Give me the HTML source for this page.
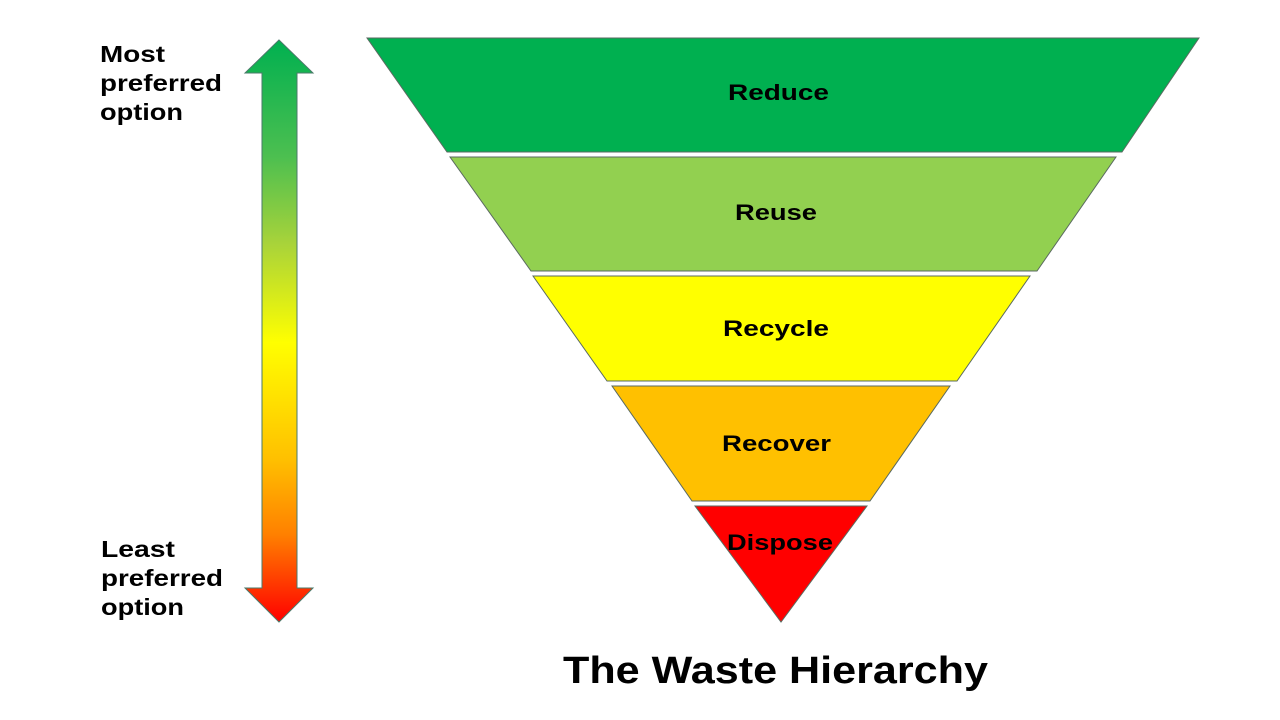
<!DOCTYPE html>
<html><head><meta charset="utf-8"><style>
html,body{margin:0;padding:0;background:#fff;width:1280px;height:720px;overflow:hidden}
svg text{font-family:"Liberation Sans",Arial,sans-serif;font-weight:bold}
</style></head><body>
<svg width="1280" height="720" viewBox="0 0 1280 720" xmlns="http://www.w3.org/2000/svg">
<defs>
<linearGradient id="g" x1="0" y1="40" x2="0" y2="622" gradientUnits="userSpaceOnUse">
<stop offset="0" stop-color="#00b050"/>
<stop offset="0.2" stop-color="#4cbf50"/>
<stop offset="0.35" stop-color="#a8d33a"/>
<stop offset="0.52" stop-color="#ffff00"/>
<stop offset="0.72" stop-color="#ffc000"/>
<stop offset="0.85" stop-color="#ff8000"/>
<stop offset="1" stop-color="#ff0000"/>
</linearGradient>
</defs>
<polygon points="279,40 313,73 297,73 297,588 313,588 279,622 245,588 262,588 262,73 245,73" fill="url(#g)" stroke="#4a7a6a" stroke-width="1"/>
<polygon points="367,38 1199,38 1122,152 447,152" fill="#00b050" stroke="#5a6a60" stroke-width="1"/>
<polygon points="450,157 1116,157 1037,271 531,271" fill="#92d050" stroke="#5a6a60" stroke-width="1"/>
<polygon points="533,276 1030,276 957,381 607,381" fill="#ffff00" stroke="#5a6a60" stroke-width="1"/>
<polygon points="612,386 950,386 870,501 692,501" fill="#ffc000" stroke="#5a6a60" stroke-width="1"/>
<polygon points="695,506 867,506 781,622" fill="#ff0000" stroke="#5a6a60" stroke-width="1"/>
<g font-size="22" fill="#000">
<text x="728" y="100" textLength="101" lengthAdjust="spacingAndGlyphs">Reduce</text>
<text x="735" y="220" textLength="82" lengthAdjust="spacingAndGlyphs">Reuse</text>
<text x="723" y="336" textLength="106" lengthAdjust="spacingAndGlyphs">Recycle</text>
<text x="722" y="451" textLength="109" lengthAdjust="spacingAndGlyphs">Recover</text>
<text x="727" y="550" textLength="106" lengthAdjust="spacingAndGlyphs">Dispose</text>
</g>
<g font-size="23" fill="#000">
<text x="100" y="62" textLength="65" lengthAdjust="spacingAndGlyphs">Most</text>
<text x="100" y="91" textLength="122" lengthAdjust="spacingAndGlyphs">preferred</text>
<text x="100" y="120" textLength="83" lengthAdjust="spacingAndGlyphs">option</text>
<text x="101" y="557" textLength="74" lengthAdjust="spacingAndGlyphs">Least</text>
<text x="101" y="586" textLength="122" lengthAdjust="spacingAndGlyphs">preferred</text>
<text x="101" y="615" textLength="83" lengthAdjust="spacingAndGlyphs">option</text>
</g>
<text x="563" y="683" font-size="38" fill="#000" textLength="425" lengthAdjust="spacingAndGlyphs">The Waste Hierarchy</text>
</svg>
</body></html>
